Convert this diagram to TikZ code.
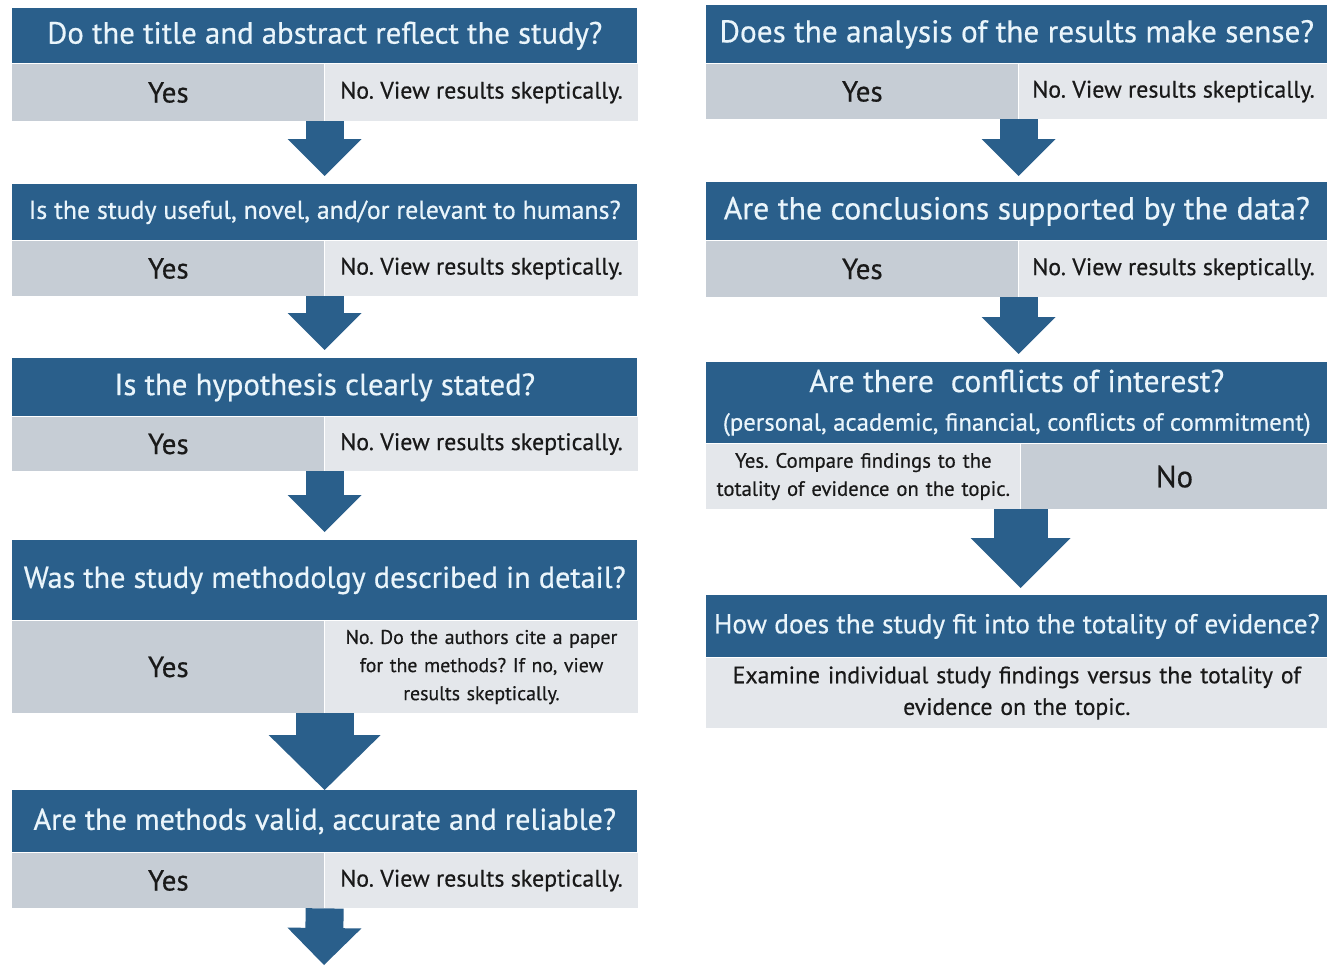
\documentclass[tikz,border=0pt]{standalone}
\usepackage{fontspec}
\setmainfont{PT Sans}[FakeBold=0.5]
\usetikzlibrary{arrows.meta,positioning}

\definecolor{hblue}{RGB}{42,95,139}
\definecolor{htext}{RGB}{234,245,251}
\definecolor{ygray}{RGB}{198,205,213}
\definecolor{ngray}{RGB}{228,231,235}
\definecolor{ctext}{RGB}{25,25,25}
\newcommand{\fsz}[2]{\fontsize{#1}{#2}\selectfont}
\frenchspacing

\begin{document}
\begin{tikzpicture}[x=0.02cm, y=-0.02cm,
  head/.style={fill=hblue, text=htext, inner sep=0pt, align=center, anchor=north west, minimum width=12.5cm, font=\fsz{17.5}{21}},
  yescell/.style={fill=ygray, text=ctext, inner sep=0pt, align=center, minimum width=6.24cm, font=\fsz{16.5}{19}},
  nocell/.style={fill=ngray, text=ctext, inner sep=0pt, align=center, minimum width=6.26cm, font=\fsz{13.6}{17}},
  flow/.style={draw=hblue, line width=0.76cm, -{Triangle[width=1.48cm, length=0.74cm, line width=0pt 0 0]}, shorten >=0.16cm},
  bigflow/.style={draw=hblue, line width=1.16cm, -{Triangle[width=2.24cm, length=1.1cm, line width=0pt 0 0]}}]
  \useasboundingbox (0,0) rectangle (1327,972);
  \fill[white] (0,0) rectangle (1327,972);

  % left column
  \node[head, minimum height=1.1cm] (h1) at (12,8) {Do the title and abstract reflect the study?};
  \node[yescell, minimum height=1.14cm, below right=0cm and 0cm of h1.south west] (y1) {Yes};
  \node[nocell, minimum height=1.14cm, right=0cm of y1] (n1) {No. View results skeptically.};

  \node[head, minimum height=1.12cm, font=\fsz{14.7}{18}] (h2) at (12,184) {Is the study useful, novel, and/or relevant to humans?};
  \node[yescell, minimum height=1.1cm, below right=0cm and 0cm of h2.south west] (y2) {Yes};
  \node[nocell, minimum height=1.1cm, right=0cm of y2] (n2) {No. View results skeptically.};

  \node[head, minimum height=1.16cm] (h3) at (12,358) {Is the hypothesis clearly stated?};
  \node[yescell, minimum height=1.08cm, below right=0cm and 0cm of h3.south west] (y3) {Yes};
  \node[nocell, minimum height=1.08cm, right=0cm of y3] (n3) {No. View results skeptically.};

  \node[head, minimum height=1.6cm, font=\fsz{17.2}{21}] (h4) at (12,540) {Was the study methodolgy described in detail?};
  \node[yescell, minimum height=1.84cm, below right=0cm and 0cm of h4.south west] (y4) {Yes};
  \node[nocell, minimum height=1.84cm, text width=6.26cm, font=\fsz{11.3}{16}, right=0cm of y4] (n4) {No. Do the authors cite a paper\\for the methods? If no, view\\results skeptically.};

  \node[head, minimum height=1.24cm, font=\fsz{17.2}{21}] (h5) at (12,790) {Are the methods valid, accurate and reliable?};
  \node[yescell, minimum height=1.1cm, below right=0cm and 0cm of h5.south west] (y5) {Yes};
  \node[nocell, minimum height=1.1cm, right=0cm of y5] (n5) {No. View results skeptically.};
  \coordinate (end5) at (324,965);

  \draw[flow] (y1.south east) -- (y1.south east |- h2.north);
  \draw[flow] (y2.south east) -- (y2.south east |- h3.north);
  \draw[flow] (y3.south east) -- (y3.south east |- h4.north);
  \draw[bigflow] (y4.south east) -- (y4.south east |- h5.north);
  \draw[flow, shorten >=0pt] (y5.south east) -- (end5);

  % right column
  \node[head, minimum width=12.42cm, minimum height=1.16cm, font=\fsz{17.8}{21}] (r1) at (706,5) {Does the analysis of the results make sense?};
  \node[yescell, minimum height=1.1cm, below right=0cm and 0cm of r1.south west] (ry1) {Yes};
  \node[nocell, minimum width=6.18cm, minimum height=1.1cm, right=0cm of ry1] (rn1) {No. View results skeptically.};

  \node[head, minimum width=12.42cm, minimum height=1.16cm, font=\fsz{18.1}{21}] (r2) at (706,182) {Are the conclusions supported by the data?};
  \node[yescell, minimum height=1.12cm, below right=0cm and 0cm of r2.south west] (ry2) {Yes};
  \node[nocell, minimum width=6.18cm, minimum height=1.12cm, right=0cm of ry2] (rn2) {No. View results skeptically.};

  \node[head, minimum width=12.42cm, minimum height=1.62cm, font=\fsz{18}{21}] (r3) at (706,362) {Are there~ conflicts of interest?\\[1pt]{\fsz{14.1}{17}(personal, academic, financial, conflicts of commitment)}};
  \node[nocell, minimum width=6.28cm, minimum height=1.3cm, text width=6.28cm, font=\fsz{11.8}{16}, below right=0cm and 0cm of r3.south west] (ry3) {Yes. Compare findings to the\\totality of evidence on the topic.};
  \node[yescell, minimum width=6.14cm, minimum height=1.3cm, font=\fsz{17.5}{20}, right=0cm of ry3] (rn3) {No};

  \node[head, minimum width=12.42cm, minimum height=1.24cm, font=\fsz{15.6}{19}] (r4) at (706,595) {How does the study fit into the totality of evidence?};
  \node[nocell, minimum width=12.42cm, minimum height=1.4cm, text width=12.42cm, font=\fsz{13.5}{18}, below right=0cm and 0cm of r4.south west] (ry4) {Examine individual study findings versus the totality of\\evidence on the topic.};

  \draw[flow, shorten >=0.12cm] (ry1.south east) -- (ry1.south east |- r2.north);
  \draw[flow] (ry2.south east) -- (ry2.south east |- r3.north);
  \draw[bigflow, line width=1.08cm, -{Triangle[width=2cm, length=1cm, line width=0pt 0 0]}, shorten >=0.14cm] (ry3.south east) -- (ry3.south east |- r4.north);
\end{tikzpicture}
\end{document}
